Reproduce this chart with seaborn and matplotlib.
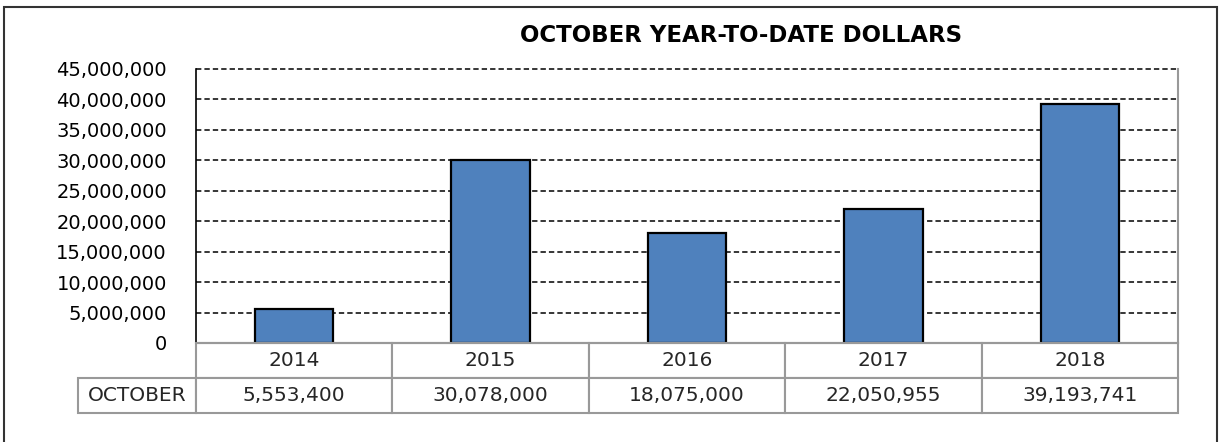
import matplotlib
matplotlib.use("Agg")
import matplotlib.pyplot as plt
from matplotlib.table import Table
from matplotlib.patches import Rectangle
from matplotlib.ticker import FuncFormatter, MultipleLocator
import seaborn as sns

# Data
years = ["2014", "2015", "2016", "2017", "2018"]
october_dollars = [5553400, 30078000, 18075000, 22050955, 39193741]
row_label = "OCTOBER"
title = "OCTOBER YEAR-TO-DATE DOLLARS"

sns.set_style("white")
plt.rcParams["font.family"] = ["DejaVu Sans"]

W, H = 1220, 442
fig = plt.figure(figsize=(W / 100, H / 100), dpi=100)

# plot area in pixel terms: left 196, right 1178, top 69, bottom 343
left, right, top, bottom = 196, 1178, 69, 343
ax = fig.add_axes([left / W, 1 - bottom / H, (right - left) / W, (bottom - top) / H])

sns.barplot(x=years, y=october_dollars, color="#4F81BD", saturation=1,
            edgecolor="black", linewidth=1.6, width=0.4, ax=ax)

ax.set_ylim(0, 45000000)
ax.yaxis.set_major_locator(MultipleLocator(5000000))
ax.yaxis.set_major_formatter(FuncFormatter(lambda v, p: f"{int(v):,}"))
ax.tick_params(axis="y", length=0, pad=21, labelsize=14, labelcolor="black")
ax.set_xticks([])
ax.set_xlabel("")
ax.set_ylabel("")

ax.set_axisbelow(True)
ax.yaxis.grid(True, linestyle=(0, (3.5, 2)), color="black", linewidth=1.1)
for gl in ax.yaxis.get_gridlines():
    gl.set_clip_on(False)

ax.spines["top"].set_visible(False)
ax.spines["left"].set_color("black")
ax.spines["left"].set_linewidth(1.2)
ax.spines["right"].set_color("#999999")
ax.spines["right"].set_linewidth(1.5)
ax.spines["bottom"].set_color("#999999")
ax.spines["bottom"].set_linewidth(1.5)

# data table below the bars
ax_h = bottom - top
ax_w = right - left
label_w = (left - 78) / ax_w
tbl_h = 70 / ax_h
tbl = Table(ax, bbox=[0, -tbl_h, 1, tbl_h])
col_w = 1 / len(years)
for i, yr in enumerate(years):
    tbl.add_cell(0, i, width=col_w, height=0.5, text=yr, loc="center")
tbl.add_cell(1, -1, width=label_w, height=0.5, text=row_label, loc="center")
for i, v in enumerate(october_dollars):
    tbl.add_cell(1, i, width=col_w, height=0.5, text=f"{v:,}", loc="center")
tbl.auto_set_font_size(False)
tbl.set_fontsize(14.5)
for key, cell in tbl.get_celld().items():
    cell.set_edgecolor("#999999")
    cell.set_linewidth(1.5)
ax.add_table(tbl)

fig.text(741 / W, 1 - 36 / H, title, ha="center", va="center",
         fontsize=16.5, fontweight="bold", color="black")

# outer chart border
fig.patches.append(Rectangle((4 / W, -0.1), (1217 - 4) / W, 1.1 - 7 / H,
                             transform=fig.transFigure, fill=False,
                             edgecolor="#333333", linewidth=1.5))

fig.savefig("out.png", dpi=100)
